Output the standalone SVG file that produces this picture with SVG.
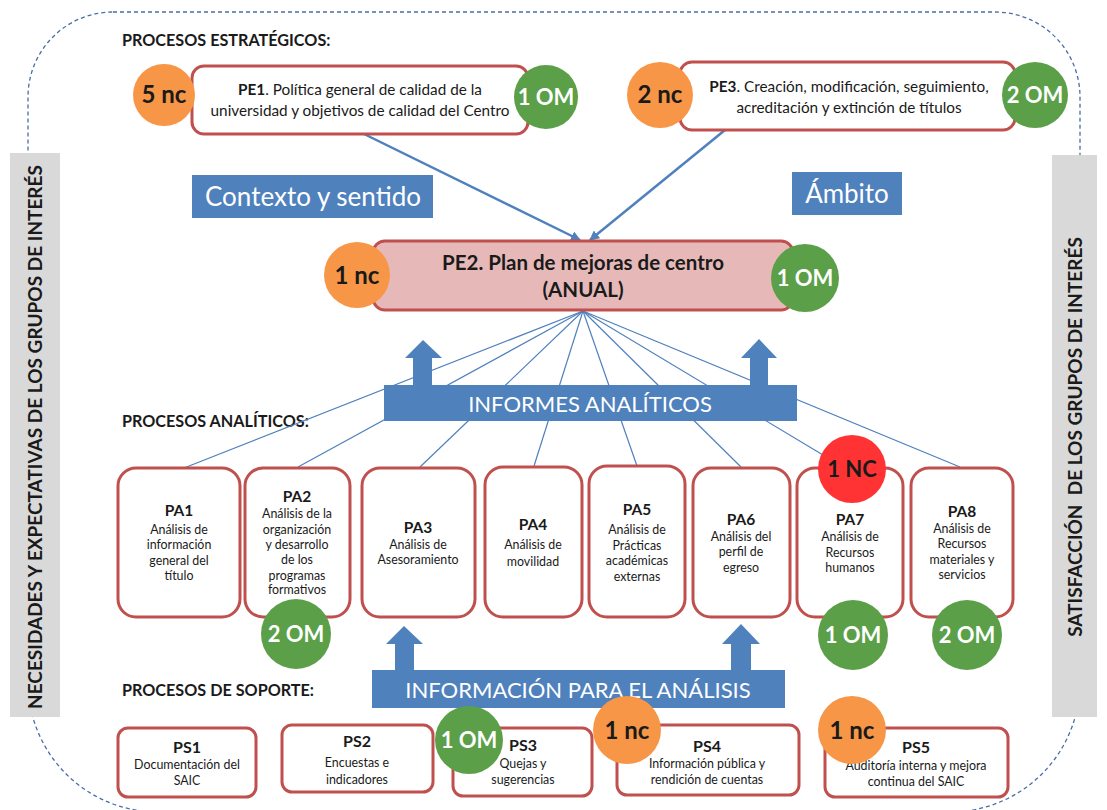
<svg xmlns="http://www.w3.org/2000/svg" width="1107" height="810" viewBox="0 0 1107 810">
<style>
text{font-family:Lato,"Open Sans","Liberation Sans",sans-serif;fill:#1a1a1a}
.c{text-anchor:middle}
.b{font-weight:bold}
.box{fill:#fff;stroke:#c0504d;stroke-width:3}
.nc{fill:#f79646}
.om{fill:#5b9f49}
.red{fill:#ff3333}
.ct{font-weight:bold;font-size:22px;text-anchor:middle}
.ctn{font-weight:bold;font-size:24px;text-anchor:middle}
.w{fill:#fff}
.blue{fill:#4f81bd}
.hdr{font-weight:bold;font-size:16.2px}
.pat{font-weight:bold;font-size:15.5px;text-anchor:middle}
.pad{font-size:12.4px;text-anchor:middle}
.pst{font-weight:bold;font-size:16px;text-anchor:middle}
.pe{font-size:15.3px;text-anchor:middle}
.fan{stroke:#4f81bd;stroke-width:1.2;fill:none}
.side{font-weight:bold;font-size:19px;text-anchor:middle}
</style>
<defs>
<marker id="ah" viewBox="0 0 10 10" refX="9" refY="5" markerWidth="4" markerHeight="4" orient="auto" markerUnits="strokeWidth">
<path d="M0,0 L10,5 L0,10 Z" fill="#4f81bd"/>
</marker>
</defs>
<rect width="1107" height="810" fill="#fff"/>
<path d="M113,12 H995 A85,85 0 0 1 1080,97 V682 A130,130 0 0 1 950,812 H158 A130,130 0 0 1 28,682 V97 A85,85 0 0 1 113,12 Z" fill="none" stroke="#4a6da7" stroke-width="1.3" stroke-dasharray="4 3"/>
<g id="side-left">
<rect x="10" y="153" width="50" height="564" fill="#d9d9d9"/>
<text class="side" transform="translate(42,437) rotate(-90)">NECESIDADES Y EXPECTATIVAS DE LOS GRUPOS DE INTERÉS</text>
</g>
<g id="side-right">
<rect x="1052" y="155" width="45" height="562" fill="#d9d9d9"/>
<text class="side" transform="translate(1082,437) rotate(-90)" xml:space="preserve">SATISFACCIÓN  DE LOS GRUPOS DE INTERÉS</text>
</g>
<g id="headers">
<text class="hdr" x="122" y="46">PROCESOS ESTRATÉGICOS:</text>
<text class="hdr" x="122" y="427">PROCESOS ANALÍTICOS:</text>
<text class="hdr" x="122" y="696">PROCESOS DE SOPORTE:</text>
</g>
<g id="connectors">
<line x1="360" y1="132" x2="580" y2="240" stroke="#4f81bd" stroke-width="2.5" marker-end="url(#ah)"/>
<line x1="725" y1="130" x2="590" y2="240" stroke="#4f81bd" stroke-width="2.5" marker-end="url(#ah)"/>
<line class="fan" x1="583" y1="311" x2="184" y2="468"/>
<line class="fan" x1="583" y1="311" x2="298" y2="467"/>
<line class="fan" x1="583" y1="311" x2="420" y2="467"/>
<line class="fan" x1="583" y1="311" x2="534" y2="466"/>
<line class="fan" x1="583" y1="311" x2="637" y2="466"/>
<line class="fan" x1="583" y1="311" x2="741" y2="467"/>
<line class="fan" x1="583" y1="311" x2="828" y2="458"/>
<line class="fan" x1="583" y1="311" x2="960" y2="467"/>
<path class="blue" d="M413,386 V358 H405 L423,340 L442,358 H432 V386 Z"/>
<path class="blue" d="M750,386 V358 H741 L759,339 L777,358 H768 V386 Z"/>
<path class="blue" d="M395,671 V644 H386 L404,626 L423,644 H414 V671 Z"/>
<path class="blue" d="M731,671 V644 H722 L741,624 L760,644 H751 V671 Z"/>
</g>
<g id="pe1">
<rect class="box" x="192" y="66" width="336" height="68" rx="12"/>
<text class="pe" x="360" y="95"><tspan class="b">PE1</tspan>. Política general de calidad de la</text>
<text class="pe" x="360" y="116">universidad y objetivos de calidad del Centro</text>
<circle class="nc" cx="164" cy="95" r="31"/>
<text class="ctn" x="164" y="103">5 nc</text>
<circle class="om" cx="546" cy="97" r="32"/>
<text class="ct w" x="546" y="105">1 OM</text>
</g>
<g id="pe3">
<rect class="box" x="680" y="62" width="335" height="68" rx="12"/>
<text class="pe" x="849" y="92"><tspan class="b">PE3</tspan>. Creación, modificación, seguimiento,</text>
<text class="pe" x="849" y="113">acreditación y extinción de títulos</text>
<circle class="nc" cx="660" cy="95" r="33"/>
<text class="ctn" x="660" y="103">2 nc</text>
<circle class="om" cx="1035" cy="95" r="33"/>
<text class="ct w" x="1035" y="103">2 OM</text>
</g>
<g id="contexto">
<rect class="blue" x="192" y="175" width="241" height="43"/>
<text class="c w" x="313" y="206" style="font-size:26px">Contexto y sentido</text>
</g>
<g id="ambito">
<rect class="blue" x="792" y="172" width="110" height="43"/>
<text class="c w" x="847" y="203" style="font-size:26px">Ámbito</text>
</g>
<g id="pe2">
<rect x="373" y="241" width="420" height="69" rx="12" fill="#e6b9b8" stroke="#c0504d" stroke-width="3"/>
<text class="c b" x="583" y="270" style="font-size:20.5px">PE2. Plan de mejoras de centro</text>
<text class="c b" x="583" y="297" style="font-size:20.5px">(ANUAL)</text>
<circle class="nc" cx="357" cy="275" r="33"/>
<text class="ctn" x="357" y="284">1 nc</text>
<circle class="om" cx="805" cy="278" r="34"/>
<text class="ct w" x="805" y="286">1 OM</text>
</g>
<g id="informes">
<rect class="blue" x="384" y="385" width="413" height="36"/>
<text class="c w" x="590" y="412" style="font-size:22px">INFORMES ANALÍTICOS</text>
</g>
<g id="pa1">
<rect class="box" x="118" y="468" width="122" height="149" rx="18"/>
<text class="pat" x="179" y="516">PA1</text>
<text class="pad" x="179" y="534">Análisis de</text>
<text class="pad" x="179" y="549">información</text>
<text class="pad" x="179" y="565">general del</text>
<text class="pad" x="179" y="580">título</text>
</g>
<g id="pa2">
<rect class="box" x="245" y="468" width="105" height="149" rx="18"/>
<text class="pat" x="297" y="502">PA2</text>
<text class="pad" x="297" y="518">Análisis de la</text>
<text class="pad" x="297" y="534">organización</text>
<text class="pad" x="297" y="549">y desarrollo</text>
<text class="pad" x="297" y="564">de los</text>
<text class="pad" x="297" y="580">programas</text>
<text class="pad" x="297" y="594">formativos</text>
<circle class="om" cx="296" cy="634" r="35"/>
<text class="ct w" x="296" y="642">2 OM</text>
</g>
<g id="pa3">
<rect class="box" x="362" y="468" width="113" height="149" rx="18"/>
<text class="pat" x="418" y="533">PA3</text>
<text class="pad" x="418" y="549">Análisis de</text>
<text class="pad" x="418" y="564">Asesoramiento</text>
</g>
<g id="pa4">
<rect class="box" x="485" y="467" width="97" height="150" rx="18"/>
<text class="pat" x="533" y="530">PA4</text>
<text class="pad" x="533" y="549">Análisis de</text>
<text class="pad" x="533" y="566">movilidad</text>
</g>
<g id="pa5">
<rect class="box" x="589" y="466" width="96" height="151" rx="18"/>
<text class="pat" x="637" y="515">PA5</text>
<text class="pad" x="637" y="534">Análisis de</text>
<text class="pad" x="637" y="550">Prácticas</text>
<text class="pad" x="637" y="565">académicas</text>
<text class="pad" x="637" y="581">externas</text>
</g>
<g id="pa6">
<rect class="box" x="693" y="468" width="97" height="149" rx="18"/>
<text class="pat" x="741" y="525">PA6</text>
<text class="pad" x="741" y="541">Análisis del</text>
<text class="pad" x="741" y="556">perfil de</text>
<text class="pad" x="741" y="572">egreso</text>
</g>
<g id="pa7">
<rect class="box" x="797" y="468" width="106" height="149" rx="18"/>
<text class="pat" x="850" y="525">PA7</text>
<text class="pad" x="850" y="541">Análisis de</text>
<text class="pad" x="850" y="557">Recursos</text>
<text class="pad" x="850" y="572">humanos</text>
<circle class="red" cx="852" cy="469" r="34"/>
<text class="ct" x="852" y="477">1 NC</text>
<circle class="om" cx="853" cy="635" r="35"/>
<text class="ct w" x="853" y="643">1 OM</text>
</g>
<g id="pa8">
<rect class="box" x="911" y="468" width="102" height="149" rx="18"/>
<text class="pat" x="962" y="517">PA8</text>
<text class="pad" x="962" y="533">Análisis de</text>
<text class="pad" x="962" y="548">Recursos</text>
<text class="pad" x="962" y="564">materiales y</text>
<text class="pad" x="962" y="579">servicios</text>
<circle class="om" cx="967" cy="635" r="35"/>
<text class="ct w" x="967" y="643">2 OM</text>
</g>
<g id="informacion">
<rect class="blue" x="372" y="670" width="413" height="38"/>
<text class="c w" x="578" y="698" style="font-size:22px">INFORMACIÓN PARA EL ANÁLISIS</text>
</g>
<g id="ps1">
<rect class="box" x="118" y="728" width="138" height="69" rx="10"/>
<text class="pst" x="187" y="753">PS1</text>
<text class="pad" x="187" y="769">Documentación del</text>
<text class="pad" x="187" y="785">SAIC</text>
</g>
<g id="ps2">
<rect class="box" x="282" y="725" width="151" height="67" rx="10"/>
<text class="pst" x="357" y="747">PS2</text>
<text class="pad" x="357" y="767">Encuestas e</text>
<text class="pad" x="357" y="784">indicadores</text>
</g>
<g id="ps3">
<rect class="box" x="453" y="728" width="139" height="68" rx="10"/>
<text class="pst" x="523" y="751">PS3</text>
<text class="pad" x="523" y="768">Quejas y</text>
<text class="pad" x="523" y="784">sugerencias</text>
<circle class="om" cx="469" cy="740" r="34"/>
<text class="ct w" x="469" y="748">1 OM</text>
</g>
<g id="ps4">
<rect class="box" x="617" y="725" width="182" height="70" rx="10"/>
<text class="pst" x="707" y="752">PS4</text>
<text class="pad" x="707" y="768">Información pública y</text>
<text class="pad" x="707" y="784">rendición de cuentas</text>
<circle class="nc" cx="627" cy="730" r="34"/>
<text class="ctn" x="627" y="739">1 nc</text>
</g>
<g id="ps5">
<rect class="box" x="825" y="728" width="183" height="69" rx="10"/>
<text class="pst" x="916" y="753">PS5</text>
<text class="pad" x="916" y="770">Auditoría interna y mejora</text>
<text class="pad" x="916" y="786">continua del SAIC</text>
<circle class="nc" cx="852" cy="730" r="34"/>
<text class="ctn" x="852" y="739">1 nc</text>
</g>
</svg>
